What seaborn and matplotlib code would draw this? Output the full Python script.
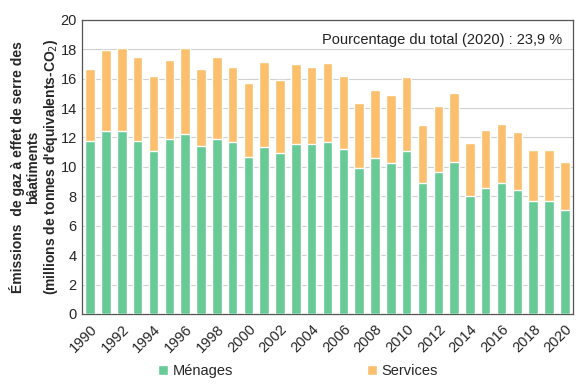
import seaborn as sns
import matplotlib.pyplot as plt
import matplotlib.ticker as mticker
import pandas as pd
import numpy as np

years = [str(y) for y in range(1990, 2021)]
menages = [11.75, 12.43, 12.43, 11.75, 11.09, 11.9, 12.27, 11.45, 11.9, 11.68,
           10.7, 11.32, 10.93, 11.54, 11.54, 11.68, 11.25, 9.89, 10.57, 10.27,
           11.09, 8.87, 9.66, 10.34, 8.05, 8.55, 8.87, 8.41, 7.66, 7.66, 7.07]
total = [16.67, 17.98, 18.07, 17.48, 16.15, 17.28, 18.07, 16.67, 17.48, 16.8,
         15.71, 17.12, 15.94, 16.98, 16.8, 17.05, 16.21, 14.35, 15.24, 14.88,
         16.08, 12.86, 14.13, 15.03, 11.61, 12.52, 12.95, 12.36, 11.16, 11.16, 10.34]
services = [t - m for t, m in zip(total, menages)]

df = pd.DataFrame({"annee": years, "Ménages": menages, "Services": services})
df["total"] = df["Ménages"] + df["Services"]

green = "#68CA96"
orange = "#FBBF6E"

sns.set_style("white")
plt.rcParams["font.family"] = ["Liberation Sans", "DejaVu Sans"]

fig = plt.figure(figsize=(5.88, 3.89), dpi=100)
ax = fig.add_axes([0.140, 0.193, 0.834, 0.756])

sns.barplot(x="annee", y="total", data=df, color=orange, width=0.6,
            saturation=1, ax=ax, label="Services", zorder=2)
sns.barplot(x="annee", y="Ménages", data=df, color=green, width=0.6,
            saturation=1, ax=ax, label="Ménages", zorder=3)
handles, labels = ax.get_legend_handles_labels()
if ax.get_legend() is not None:
    ax.get_legend().remove()

ax.set_ylim(0, 20)
ax.set_xlim(-0.5, len(years) - 0.5)
ax.yaxis.set_major_locator(mticker.MultipleLocator(2))
ax.yaxis.set_minor_locator(mticker.MultipleLocator(0.5))
ax.yaxis.grid(True, color="#d0d0d0", linewidth=0.8, zorder=0)
ax.set_axisbelow(True)

ax.set_xticks(range(0, len(years), 2))
ax.set_xticklabels(years[::2], rotation=45, ha="right", rotation_mode="anchor")
ax.set_xticks(np.arange(-0.5, len(years), 1), minor=True)
ax.tick_params(axis="x", which="major", length=0, labelsize=10.5, pad=6)
ax.tick_params(axis="x", which="minor", length=4, direction="out", width=0.8, color="#333333")
ax.tick_params(axis="y", which="major", length=5, direction="inout", labelsize=10.5,
               width=0.8, color="#333333", pad=1.5)
ax.tick_params(axis="y", which="minor", length=2.5, direction="inout", width=0.8, color="#333333")
for s in ax.spines.values():
    s.set_color("#555555")
    s.set_linewidth(0.9)

ax.set_xlabel("")
ax.set_ylabel("Émissions  de gaz à effet de serre des\nbâatiments\n(millions de tonnes d'équivalents-CO$_2$)",
              fontsize=10, fontweight="bold", linespacing=1.1)
ax.yaxis.set_label_coords(-0.046, 0.5)

ax.text(0.978, 0.93, "Pourcentage du total (2020) : 23,9 %", transform=ax.transAxes,
        ha="right", va="center", fontsize=10.5, color="#222222")

order = [labels.index("Ménages"), labels.index("Services")]
fig.legend([handles[i] for i in order], [labels[i] for i in order],
           loc="center", bbox_to_anchor=(0.507, 0.046), ncol=2, frameon=False,
           fontsize=10.5, handlelength=0.7, handleheight=0.7, handletextpad=0.3,
           columnspacing=9.2)

fig.savefig("out.png", dpi=100)
